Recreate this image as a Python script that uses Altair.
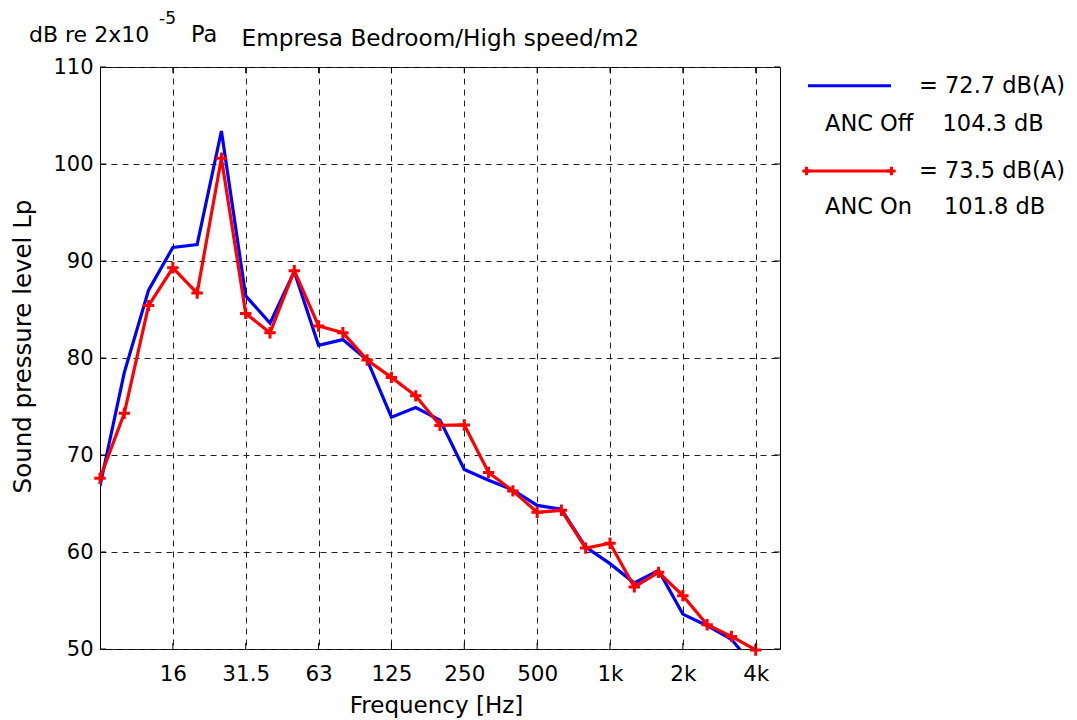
import altair as alt
import pandas as pd

# 1/3-octave band centre frequencies (labels)
bands = ["8", "10", "12.5", "16", "20", "25", "31.5", "40", "50", "63", "80", "100",
         "125", "160", "200", "250", "315", "400", "500", "630", "800", "1k",
         "1.25k", "1.6k", "2k", "2.5k", "3.15k", "4k"]

# Sound pressure level, dB re 2x10^-5 Pa
anc_off = [66.8, 78.5, 87.0, 91.4, 91.7, 103.4, 86.4, 83.6, 88.9, 81.3, 81.9, 79.8,
           73.9, 74.9, 73.6, 68.5, 67.4, 66.4, 64.8, 64.4, 60.5, 58.8, 56.8, 58.1,
           53.6, 52.4, 51.0, 48.0]
anc_on = [67.6, 74.3, 85.4, 89.3, 86.7, 100.6, 84.6, 82.6, 89.0, 83.3, 82.6, 79.8,
          78.0, 76.1, 73.05, 73.1, 68.2, 66.3, 64.1, 64.3, 60.4, 60.9, 56.4, 57.9,
          55.5, 52.5, 51.3, 49.9]

tick_bands = ["16", "31.5", "63", "125", "250", "500", "1k", "2k", "4k"]
y_ticks = [50, 60, 70, 80, 90, 100, 110]

legend_off = ["= 72.7 dB(A)", "ANC Off", "104.3 dB"]
legend_on = ["= 73.5 dB(A)", "ANC On", "101.8 dB"]

FONT = "DejaVu Sans"
W, H = 680, 582

idx = list(range(len(bands)))
tick_idx = [bands.index(b) for b in tick_bands]
label_expr = " : ".join(f"datum.value == {i} ? '{b}'" for i, b in zip(tick_idx, tick_bands)) + " : ''"

df_off = pd.DataFrame({"i": idx, "level": anc_off})
df_on = pd.DataFrame({"i": idx, "level": anc_on})
df_xt = pd.DataFrame({"i": tick_idx})
df_yt = pd.DataFrame({"level": y_ticks})

xs = alt.Scale(domain=[0, len(bands)], nice=False, zero=False)
ys = alt.Scale(domain=[50, 110], nice=False, zero=False)

x_axis = alt.Axis(values=tick_idx, labelExpr=label_expr, grid=True, gridDash=[6, 5],
                  gridColor="#222222", gridWidth=1, tickSize=0, domain=False,
                  labelFont=FONT, labelFontSize=21.5, labelColor="black", labelPadding=14,
                  title="Frequency [Hz]", titleFont=FONT, titleFontSize=23,
                  titleFontWeight="normal", titleColor="black", titleX=336, titleY=63,
                  titleBaseline="alphabetic", titleAlign="center")
y_axis = alt.Axis(values=y_ticks, grid=True, gridDash=[6, 5], gridColor="#222222",
                  gridWidth=1, tickSize=0, domain=False, labelFont=FONT, labelFontSize=21,
                  labelColor="black", labelPadding=7,
                  title="Sound pressure level Lp", titleFont=FONT, titleFontSize=24.5,
                  titleFontWeight="normal", titleColor="black", titleAngle=270,
                  titleX=-70, titleY=279, titleBaseline="alphabetic", titleAlign="center")

X = alt.X("i:Q", scale=xs, axis=x_axis)
Y = alt.Y("level:Q", scale=ys, axis=y_axis)

off_line = alt.Chart(df_off).mark_line(color="#0000FF", strokeWidth=3.2, clip=True).encode(x=X, y=Y)
on_line = alt.Chart(df_on).mark_line(color="#FF0000", strokeWidth=3.2, clip=True).encode(x=X, y=Y)
PLUS = "M-1,0L1,0M0,-1L0,1"
on_pts = alt.Chart(df_on).mark_point(shape=PLUS, filled=False, size=130, strokeWidth=3,
                                     color="#FF0000", opacity=1).encode(x=X, y=Y)

# inward ticks on all four sides
tick_b = alt.Chart(df_xt).mark_rule(color="black", strokeWidth=1).encode(
    x=X, y=alt.value(H), y2=alt.value(H - 6))
tick_t = alt.Chart(df_xt).mark_rule(color="black", strokeWidth=1).encode(
    x=X, y=alt.value(0), y2=alt.value(6))
tick_l = alt.Chart(df_yt).mark_rule(color="black", strokeWidth=1).encode(
    y=Y, x=alt.value(0), x2=alt.value(6))
tick_r = alt.Chart(df_yt).mark_rule(color="black", strokeWidth=1).encode(
    y=Y, x=alt.value(W - 6), x2=alt.value(W))

one = alt.Data(values=[{}])


def txt(s, x, y, size, align="left"):
    return alt.Chart(one).mark_text(align=align, baseline="alphabetic", font=FONT,
                                    fontSize=size, color="black").encode(
        x=alt.value(x), y=alt.value(y), text=alt.value(s))


title_layers = [
    txt("dB re 2x10", -71, -25.5, 22),
    txt("-5", 59, -43.5, 17),
    txt("Pa", 91, -25.5, 22.5),
    txt("Empresa Bedroom/High speed/m2", 141.5, -21.5, 23.2),
]

leg_blue = alt.Chart(one).mark_rule(color="#0000FF", strokeWidth=3).encode(
    x=alt.value(708), x2=alt.value(791), y=alt.value(18.7))
leg_red = alt.Chart(one).mark_rule(color="#FF0000", strokeWidth=3).encode(
    x=alt.value(706), x2=alt.value(792), y=alt.value(104))
leg_red_p1 = alt.Chart(one).mark_point(shape=PLUS, filled=False, size=70, strokeWidth=3,
                                       color="#FF0000", opacity=1).encode(
    x=alt.value(706.5), y=alt.value(104))
leg_red_p2 = alt.Chart(one).mark_point(shape=PLUS, filled=False, size=70, strokeWidth=3,
                                       color="#FF0000", opacity=1).encode(
    x=alt.value(791.5), y=alt.value(104))

legend_layers = [
    leg_blue,
    txt(legend_off[0], 819, 26.3, 22.5),
    txt(legend_off[1], 725, 63.7, 22.5),
    txt(legend_off[2], 842.5, 63.7, 22.5),
    leg_red, leg_red_p1, leg_red_p2,
    txt(legend_on[0], 819, 111.3, 22.5),
    txt(legend_on[1], 725, 147, 22.5),
    txt(legend_on[2], 844, 147, 22.5),
]

chart = alt.layer(
    off_line, on_line, on_pts, tick_b, tick_t, tick_l, tick_r,
    *title_layers, *legend_layers
).properties(
    width=W, height=H,
    autosize=alt.AutoSizeParams(type="none"),
    padding={"left": 92, "top": 59, "right": 285, "bottom": 70},
    background="white",
).configure_view(stroke="black", strokeWidth=1)

chart.save("out.html", embed_options={"renderer": "svg", "actions": False})
